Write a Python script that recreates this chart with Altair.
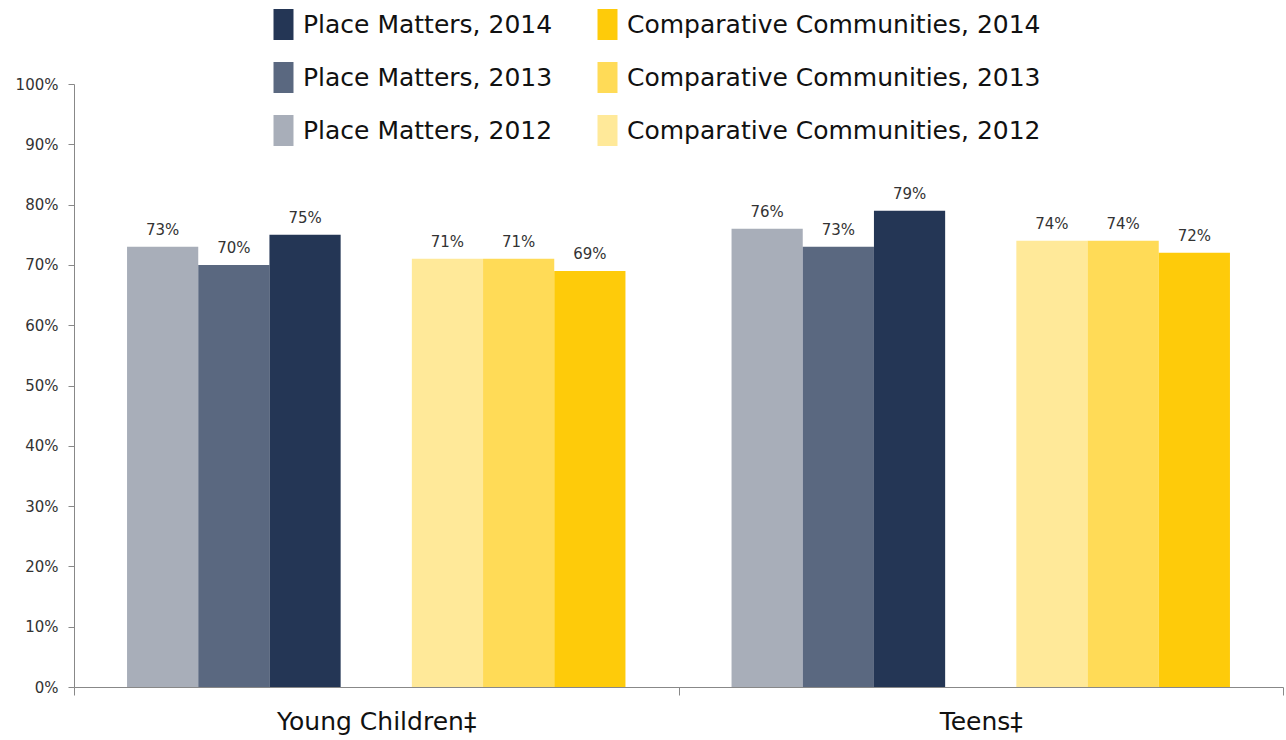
import altair as alt
import pandas as pd

groups = ["Young Children\u2021", "Teens\u2021"]
series_bar_order = ["Place Matters, 2012", "Place Matters, 2013", "Place Matters, 2014", " ",
                    "Comparative Communities, 2012", "Comparative Communities, 2013", "Comparative Communities, 2014"]
legend_order = ["Place Matters, 2014", "Place Matters, 2013", "Place Matters, 2012",
                "Comparative Communities, 2014", "Comparative Communities, 2013", "Comparative Communities, 2012"]
legend_colors = ["#243655", "#5a6880", "#a8aeb9", "#fecb0a", "#ffdb57", "#ffe999"]

pm_2012 = [73, 76]
pm_2013 = [70, 73]
pm_2014 = [75, 79]
cc_2012 = [71, 74]
cc_2013 = [71, 74]
cc_2014 = [69, 72]

series_values = {
    "Place Matters, 2012": pm_2012,
    "Place Matters, 2013": pm_2013,
    "Place Matters, 2014": pm_2014,
    "Comparative Communities, 2012": cc_2012,
    "Comparative Communities, 2013": cc_2013,
    "Comparative Communities, 2014": cc_2014,
}

rows = []
for s, vals in series_values.items():
    for g, v in zip(groups, vals):
        rows.append({"group": g, "series": s, "value": v / 100.0, "label": f"{v}%"})
df = pd.DataFrame(rows)

FONT = "DejaVu Sans"
W, H = 1209, 603

x = alt.X("group:N", sort=groups, title=None,
          scale=alt.Scale(paddingInner=0, paddingOuter=0),
          axis=alt.Axis(labelAngle=0, labelFontSize=25, labelColor="#111111", labelFont=FONT,
                        tickBand="extent", tickSize=8, tickColor="#888888", labelLimit=500,
                        domainColor="#888888", labelPadding=14))
xo = alt.XOffset("series:N", scale=alt.Scale(domain=series_bar_order, paddingOuter=0.745, paddingInner=0))
y = alt.Y("value:Q", title=None,
          scale=alt.Scale(domain=[0, 1]),
          axis=alt.Axis(format=".0%", values=[i / 10 for i in range(11)], grid=False,
                        labelFontSize=15, labelColor="#333333", labelFont=FONT,
                        tickSize=6, tickColor="#888888", domainColor="#888888", labelPadding=10))

bars = alt.Chart(df).mark_bar(stroke=None).encode(
    x=x, xOffset=xo, y=y,
    color=alt.Color("series:N", scale=alt.Scale(domain=legend_order, range=legend_colors),
                    legend=alt.Legend(title=None, orient="none", legendX=194, legendY=-75,
                                      columns=2, columnPadding=39, rowPadding=22,
                                      symbolType="M-0.645,-1H0.645V1H-0.645Z", symbolSize=961,
                                      symbolStrokeWidth=0, symbolOpacity=1,
                                      labelFontSize=25, labelFont=FONT, labelColor="#111111",
                                      labelOffset=4, labelLimit=500)),
)

labels = alt.Chart(df).mark_text(baseline="bottom", dy=-9, fontSize=15, font=FONT, color="#333333").encode(
    x=alt.X("group:N", sort=groups), xOffset=xo, y="value:Q", text="label:N"
)

chart = alt.layer(bars, labels).properties(
    width=W, height=H,
    autosize=alt.AutoSizeParams(type="none"),
    padding={"left": 74, "top": 84, "right": 3, "bottom": 53},
    background="white",
).configure_view(stroke=None)

chart.save("out.html", embed_options={"renderer": "svg", "actions": False})
